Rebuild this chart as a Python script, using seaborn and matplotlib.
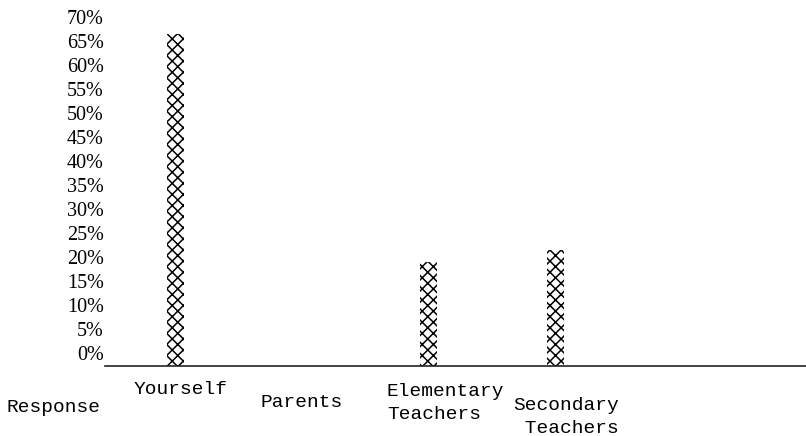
import matplotlib
matplotlib.use("Agg")
import matplotlib.pyplot as plt
import matplotlib.transforms as mtransforms
import seaborn as sns
import pandas as pd
import numpy as np

# ---- data -------------------------------------------------------------
categories = ["Yourself", "Parents", "Elementary\nTeachers", "Secondary\n Teachers"]
percent = [66.5, 0, 19, 21.5]
y_ticks = [0, 5, 10, 15, 20, 25, 30, 35, 40, 45, 50, 55, 60, 65, 70]
y_tick_labels = [f"{v}%" for v in y_ticks]
axis_title = "Response"

# ---- style ------------------------------------------------------------
sns.set_theme(style="white")
plt.rcParams["hatch.color"] = "black"
plt.rcParams["hatch.linewidth"] = 1.1
MONO = ["Liberation Mono", "DejaVu Sans Mono"]
SERIF = ["Liberation Serif", "DejaVu Serif"]

FLOOR = -2.7  # the typed baseline sits a little below the 0% row
df = pd.DataFrame({"response": categories, "percent": percent})
# a zero response gets no typed column at all
df["height"] = np.where(df["percent"] > 0, df["percent"] - FLOOR, 0.0)

fig = plt.figure(figsize=(8.06, 4.36), dpi=100)
ax = fig.add_axes([105 / 806, (436 - 366) / 436, (806 - 105) / 806, 361 / 436])

sns.barplot(data=df, x="response", y="height", bottom=FLOOR, width=0.134,
            color="white", edgecolor="black", linewidth=0, hatch="xxx",
            ax=ax)

ax.set_xlim(-0.56, 4.98)
ax.set_ylim(FLOOR, 72.5)
ax.set_yticks(y_ticks)
ax.set_yticklabels(y_tick_labels, family=SERIF, fontsize=14.5, color="black")
ax.tick_params(axis="y", length=0, pad=1)
ax.set_xticks([])
ax.set_xlabel("")
ax.set_ylabel("")
for s in ["top", "right", "left"]:
    ax.spines[s].set_visible(False)
ax.spines["bottom"].set_color("#222222")
ax.spines["bottom"].set_linewidth(1.2)

# category labels typed below the baseline, staggered like the original
drops = [23, 36, 37, 51]  # px below baseline (centre of label block)
for i, (lab, d) in enumerate(zip(categories, drops)):
    trans = mtransforms.blended_transform_factory(ax.transData, ax.transAxes)
    off = mtransforms.ScaledTranslation(-42 / 100, -d / 100, fig.dpi_scale_trans)
    ax.text(i, 0, lab, transform=trans + off, ha="left", va="center",
            family=MONO, fontsize=14, color="black", linespacing=1.45)

fig.text(7 / 806, 1 - 407 / 436, axis_title, ha="left", va="center",
         family=MONO, fontsize=14, color="black")

fig.savefig("out.png", dpi=100, facecolor="white")
